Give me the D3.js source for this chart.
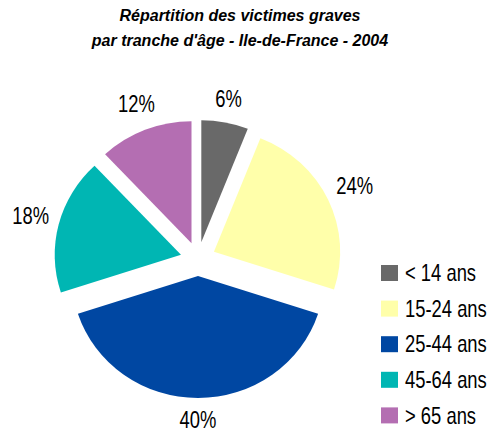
<!DOCTYPE html>
<html lang="fr">
<head>
	<meta charset="UTF-8">
	<title>victimes graves</title>
	<script src="https://cdn.jsdelivr.net/npm/d3@7"></script>
	<style>
		body {
			margin: 0;
			background: #fff;
		}
		svg {
			display: block;
			background: #fff;
			font-family: Arial, "Liberation Sans", sans-serif;
		}
		.title {
			font-size: 16px;
			font-weight: bold;
			font-style: italic;
			fill: #000;
		}
		.lbl {
			font-size: 23px;
			fill: #000;
		}
	</style>
</head>
<body>
<div id="viz"></div>
<script>
	var categories = ['< 14 ans', '15-24 ans', '25-44 ans', '45-64 ans', '> 65 ans'];
	var values = [6, 24, 40, 18, 12];
	var colors = ['#696969', '#FFFFAA', '#0047A2', '#00B6B3', '#B46EB2'];
	var titleLines = ['Répartition des victimes graves', "par tranche d'âge - Ile-de-France - 2004"];

	var width = 494, height = 434;
	var cx = 198, cy = 259;
	var radius = 122, explode = 17;
	var stretch = 1.035; // pie is a touch wider than tall
	var sx = 0.8; // labels look condensed

	var svg = d3.select('#viz')
		.append('svg')
		.attr('width', width)
		.attr('height', height);

	svg.selectAll('.title')
		.data(titleLines)
		.enter().append('text')
		.attr('class', 'title')
		.attr('x', 240)
		.attr('y', function (d, i) { return 21 + i * 25; })
		.attr('text-anchor', 'middle')
		.text(function (d) { return d; });

	var pie = d3.pie().sort(null).value(function (d) { return d; });
	var arc = d3.arc().innerRadius(0).outerRadius(radius);
	var arcs = pie(values);

	var g = svg.append('g')
		.attr('transform', 'translate(' + cx + ',' + cy + ') scale(' + stretch + ',1)');

	function mid(d) { return (d.startAngle + d.endAngle) / 2; }

	g.selectAll('path')
		.data(arcs)
		.enter().append('path')
		.attr('d', arc)
		.attr('fill', function (d, i) { return colors[i]; })
		.attr('transform', function (d) {
			var a = mid(d);
			return 'translate(' + (Math.sin(a) * explode) + ',' + (-Math.cos(a) * explode) + ')';
		});

	// percent labels, pushed outside the slice by their own box
	var gl = svg.append('g')
		.attr('transform', 'translate(' + cx + ',' + cy + ')');

	var lbl = gl.selectAll('g')
		.data(arcs)
		.enter().append('g');

	lbl.append('text')
		.attr('class', 'lbl')
		.attr('text-anchor', 'middle')
		.attr('dy', '0.36em')
		.text(function (d) { return d.value + '%'; });

	lbl.attr('transform', function (d) {
		var a = mid(d);
		var ux = Math.sin(a), uy = -Math.cos(a);
		var w = this.querySelector('text').getComputedTextLength() * sx;
		var s = Math.abs(ux) * w / 2 + Math.abs(uy) * 8;
		var r = radius + explode + 14 + s;
		return 'translate(' + (ux * r) + ',' + (uy * r) + ') scale(' + sx + ',1)';
	});

	// legend
	var leg = svg.append('g')
		.attr('transform', 'translate(381,265)');

	var item = leg.selectAll('g')
		.data(categories)
		.enter().append('g')
		.attr('transform', function (d, i) { return 'translate(0,' + (i * 35.6) + ')'; });

	item.append('rect')
		.attr('width', 17)
		.attr('height', 16)
		.attr('fill', function (d, i) { return colors[i]; });

	item.append('text')
		.attr('class', 'lbl')
		.attr('transform', 'translate(24,8) scale(' + sx + ',1)')
		.attr('dy', '0.36em')
		.text(function (d) { return d; });
</script>
</body>
</html>
